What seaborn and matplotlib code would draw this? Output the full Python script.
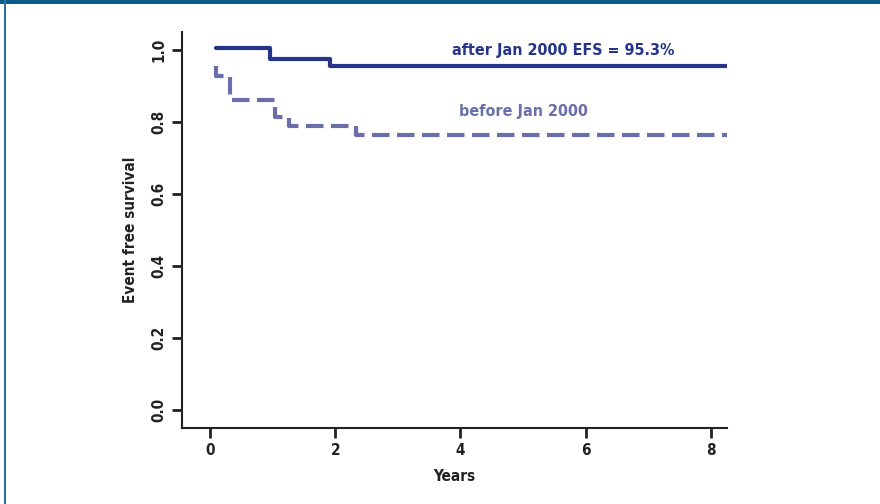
import numpy as np
import pandas as pd
import matplotlib
matplotlib.use("Agg")
import matplotlib.pyplot as plt
import seaborn as sns
from matplotlib.patches import Rectangle

# ================== Data ==================
after_years = [0.10, 0.96, 1.92, 8.26]
after_surv = [1.007, 0.975, 0.957, 0.957]

before_years = [0.09, 0.09, 0.32, 1.03, 1.26, 2.33, 8.26]
before_surv = [0.955, 0.928, 0.861, 0.813, 0.790, 0.763, 0.763]

x_ticks = [0, 2, 4, 6, 8]
y_ticks = [0.0, 0.2, 0.4, 0.6, 0.8, 1.0]

after_df = pd.DataFrame({"years": after_years, "surv": after_surv})
before_df = pd.DataFrame({"years": before_years, "surv": before_surv})

# ================== Style ==================
sns.set_style("ticks")
plt.rcParams['font.family'] = ['DejaVu Sans']
plt.rcParams['font.stretch'] = 'condensed'
plt.rcParams['font.weight'] = 'bold'

solid_col = '#26358a'
dash_col = '#6b6fa9'
text_col = '#222222'

fig = plt.figure(figsize=(8.8, 5.04), dpi=100)
ax = fig.add_axes([182 / 880, 1 - 428 / 504, (727 - 182) / 880, (428 - 31.7) / 504])

# ================== Curves ==================
sns.lineplot(data=after_df, x="years", y="surv", sort=False, estimator=None, ax=ax,
             drawstyle='steps-post', color=solid_col, linewidth=3.0)
sns.lineplot(data=before_df, x="years", y="surv", sort=False, estimator=None, ax=ax,
             drawstyle='steps-post', color=dash_col, linewidth=3.0,
             linestyle=(0, (4.2, 1.8)))

ax.set_xlim(-0.45, 8.26)
ax.set_ylim(-0.05, 1.051)
ax.set_xticks(x_ticks)
ax.set_xticklabels([str(t) for t in x_ticks], fontsize=11, fontweight='bold', color=text_col)
ax.set_yticks(y_ticks)
ax.set_yticklabels([f"{t:.1f}" for t in y_ticks], fontsize=11, fontweight='bold',
                   rotation=90, va='center', color=text_col)
ax.tick_params(axis='both', length=7, width=2, color='#222222', pad=4)
ax.set_xlabel("Years", fontsize=11, fontweight='bold', color=text_col, labelpad=8)
ax.set_ylabel("Event free survival", fontsize=11, fontweight='bold', color=text_col, labelpad=10)

for side in ['top', 'right']:
    ax.spines[side].set_visible(False)
for side in ['left', 'bottom']:
    ax.spines[side].set_linewidth(1.5)
    ax.spines[side].set_color('#222222')

ax.text(3.87, 1.0, "after Jan 2000 EFS = 95.3%", color=solid_col, fontsize=11.5,
        fontweight='bold', va='center', ha='left')
ax.text(3.98, 0.828, "before Jan 2000", color=dash_col, fontsize=11.5,
        fontweight='bold', va='center', ha='left')

# ================== Frame decoration ==================
fig.add_artist(Rectangle((0, 1 - 4 / 504), 1, 4 / 504, transform=fig.transFigure,
                         color='#0a5b8c', lw=0))
fig.add_artist(Rectangle((4 / 880, 0), 2 / 880, 1, transform=fig.transFigure,
                         color='#2b72a1', lw=0))

fig.savefig("out.png", dpi=100)
